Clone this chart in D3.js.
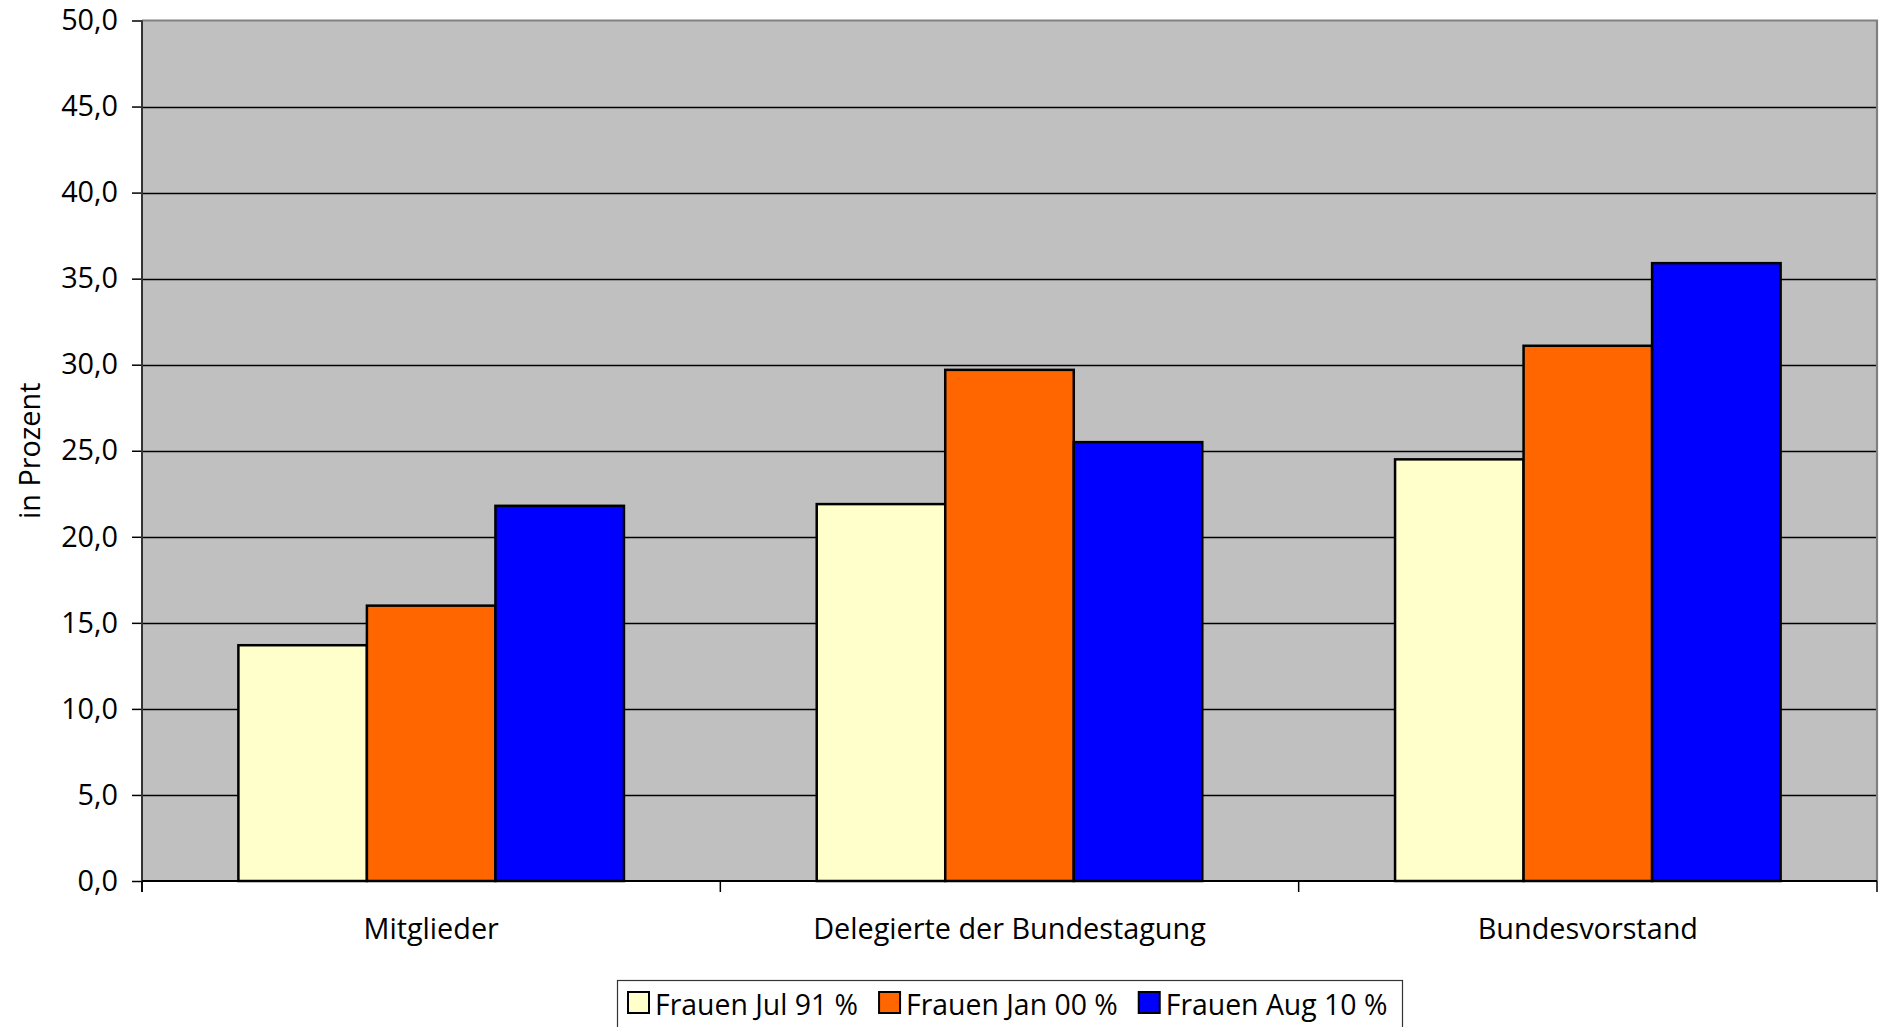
<!DOCTYPE html>
<html>
<head>
<meta charset="utf-8">
<script src="https://cdn.jsdelivr.net/npm/d3@7"></script>
<style>
  html, body { margin: 0; padding: 0; background: #ffffff; }
  svg { display: block; }
  text { font-family: "Open Sans", "DejaVu Sans", sans-serif; fill: #000; }
</style>
</head>
<body>
<svg id="chart" width="1881" height="1027"></svg>
<script>
const categories = ["Mitglieder", "Delegierte der Bundestagung", "Bundesvorstand"];
const seriesNames = ["Frauen Jul 91 %", "Frauen Jan 00 %", "Frauen Aug 10 %"];
const seriesJul91 = [13.7, 21.9, 24.5];
const seriesJan00 = [16.0, 29.7, 31.1];
const seriesAug10 = [21.8, 25.5, 35.9];
const seriesColors = ["#FFFFCC", "#FF6600", "#0000FF"];
const yTicks = [0, 5, 10, 15, 20, 25, 30, 35, 40, 45, 50];
const yLabel = "in Prozent";

const seriesValues = [seriesJul91, seriesJan00, seriesAug10];

const svg = d3.select("#chart");
const m = { left: 142, right: 1877, top: 20.5, bottom: 881 };
const fontSize = 28.8;
const legendFontSize = 28.4;

const x0 = d3.scaleBand().domain(categories).range([m.left, m.right]).paddingInner(0).paddingOuter(0);
const x1 = d3.scaleBand().domain(seriesNames).range([0, x0.bandwidth()]).paddingInner(0).paddingOuter(0.75);
const y = d3.scaleLinear().domain([0, 50]).range([m.bottom, m.top]);

// plot background
svg.append("rect")
  .attr("x", m.left).attr("y", m.top)
  .attr("width", m.right - m.left).attr("height", m.bottom - m.top)
  .attr("fill", "#C0C0C0");

// gridlines
svg.append("g").selectAll("line")
  .data(yTicks.filter(d => d > 0 && d < 50))
  .join("line")
  .attr("x1", m.left).attr("x2", m.right)
  .attr("y1", d => Math.round(y(d)) + 0.5).attr("y2", d => Math.round(y(d)) + 0.5)
  .attr("stroke", "#000").attr("stroke-width", 1.3);

// top & right border
svg.append("path")
  .attr("d", `M${m.left},${m.top} H${m.right} V${m.bottom}`)
  .attr("fill", "none").attr("stroke", "#808080").attr("stroke-width", 2.2);

// bars
const groups = svg.append("g").selectAll("g")
  .data(categories)
  .join("g")
  .attr("transform", d => `translate(${x0(d)},0)`);

groups.selectAll("rect")
  .data((c, ci) => seriesNames.map((s, si) => ({ s, si, v: seriesValues[si][ci] })))
  .join("rect")
  .attr("x", d => x1(d.s))
  .attr("width", x1.bandwidth())
  .attr("y", d => y(d.v))
  .attr("height", d => y(0) - y(d.v))
  .attr("fill", d => seriesColors[d.si])
  .attr("stroke", "#000")
  .attr("stroke-width", 2.5);

// y axis
const yAxis = d3.axisLeft(y).tickValues(yTicks).tickSize(10).tickPadding(14)
  .tickFormat(d => d3.format(".1f")(d).replace(".", ","));
const gy = svg.append("g").attr("transform", `translate(${m.left},0)`).call(yAxis);
gy.select(".domain").remove();
gy.selectAll(".tick line").attr("stroke", "#000").attr("stroke-width", 1.5);
gy.selectAll(".tick text").attr("font-size", fontSize).attr("font-family", "Open Sans").attr("fill", "#000");
svg.append("line")
  .attr("x1", m.left).attr("x2", m.left)
  .attr("y1", m.top).attr("y2", m.bottom + 11)
  .attr("stroke", "#333").attr("stroke-width", 2);

// x axis
const boundaries = categories.map(c => x0(c)).concat([m.right]);
svg.append("line")
  .attr("x1", m.left).attr("x2", m.right)
  .attr("y1", m.bottom).attr("y2", m.bottom)
  .attr("stroke", "#000").attr("stroke-width", 2);
svg.append("g").selectAll("line")
  .data(boundaries)
  .join("line")
  .attr("x1", d => d).attr("x2", d => d)
  .attr("y1", m.bottom).attr("y2", m.bottom + 11)
  .attr("stroke", "#000").attr("stroke-width", 1.5);

svg.append("g").selectAll("text")
  .data(categories)
  .join("text")
  .attr("x", d => x0(d) + x0.bandwidth() / 2)
  .attr("y", 939)
  .attr("text-anchor", "middle")
  .attr("font-size", fontSize)
  .text(d => d);

// y label
svg.append("text")
  .attr("transform", `translate(28,${(m.top + m.bottom) / 2}) rotate(-90)`)
  .attr("text-anchor", "middle")
  .attr("dominant-baseline", "central")
  .attr("font-size", fontSize)
  .text(yLabel);

// legend
const legend = svg.append("g");
legend.append("rect")
  .attr("x", 617.5).attr("y", 980.5)
  .attr("width", 1402 - 617).attr("height", 70)
  .attr("fill", "#fff").attr("stroke", "#333").attr("stroke-width", 1.2);
let lx = 628;
seriesNames.forEach((s, i) => {
  legend.append("rect")
    .attr("x", lx).attr("y", 992)
    .attr("width", 21).attr("height", 21)
    .attr("fill", seriesColors[i]).attr("stroke", "#000").attr("stroke-width", 2);
  const t = legend.append("text")
    .attr("x", lx + 27).attr("y", 1015)
    .attr("font-size", legendFontSize)
    .text(s);
  const w = t.node().getComputedTextLength();
  lx = lx + 27 + w + 21;
});
</script>
</body>
</html>
